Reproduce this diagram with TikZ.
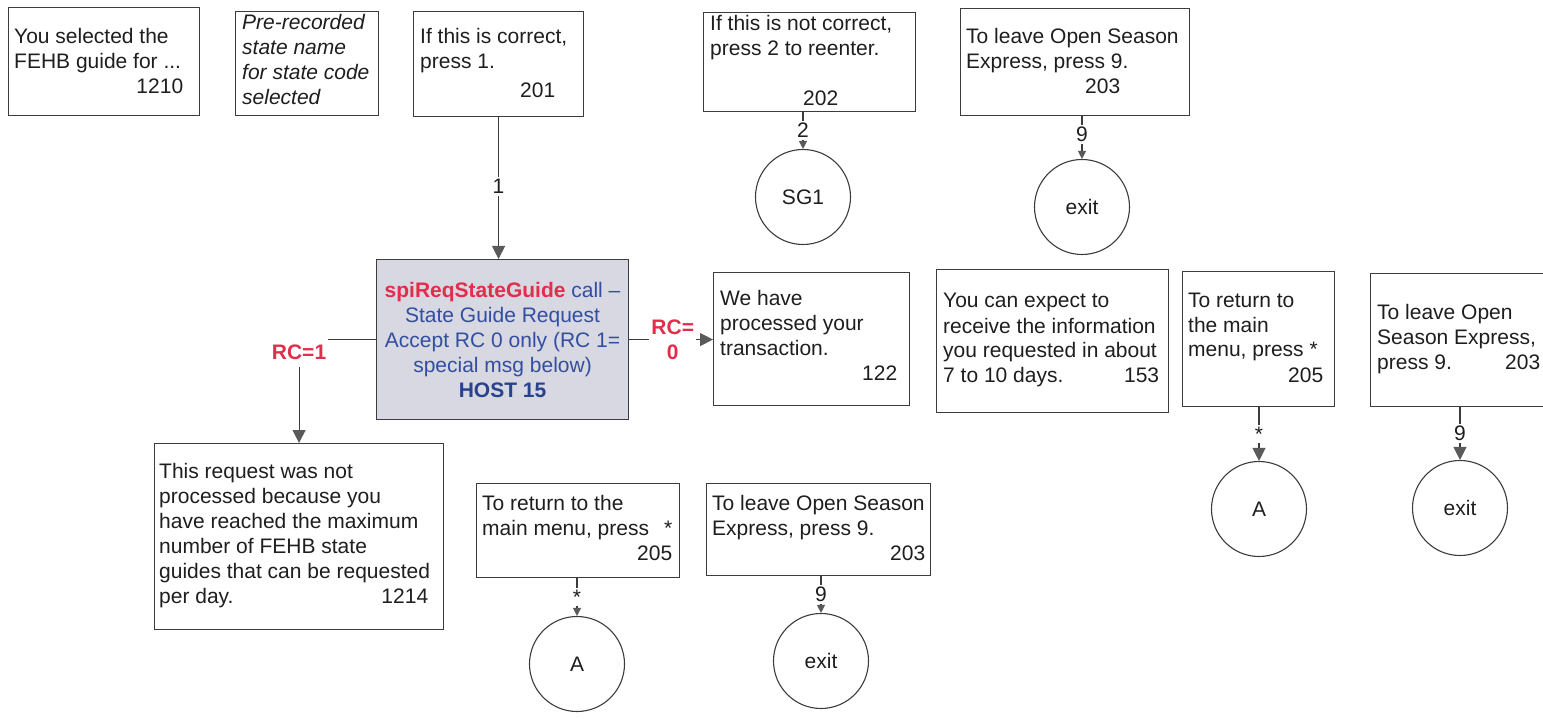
\documentclass[tikz,border=0pt]{standalone}
\usepackage{fontspec}
\setmainfont{Liberation Sans}
\usetikzlibrary{arrows.meta}
\definecolor{linegray}{RGB}{60,60,60}
\definecolor{tipgray}{RGB}{90,90,90}
\definecolor{rcred}{RGB}{226,45,75}
\definecolor{spiblue}{RGB}{50,78,160}
\definecolor{hostblue}{RGB}{40,66,140}
\definecolor{callfill}{RGB}{216,216,226}
\definecolor{inkblack}{RGB}{30,30,30}
\begin{document}
\begin{tikzpicture}[x=1pt,y=1pt,
  box/.style={draw=linegray, line width=1.1pt, rectangle, inner sep=0pt, anchor=north west},
  txt/.style={anchor=base west, align=left, inner sep=0pt, font=\fontsize{21}{25}\selectfont, text=inkblack},
  circ/.style={draw=linegray, line width=1.1pt, circle, inner sep=0pt, minimum size=95pt, font=\fontsize{21}{25}\selectfont, text=inkblack},
  conn/.style={draw=linegray, line width=1.1pt, -{Triangle[length=13pt,width=13pt,color=tipgray]}},
  connsm/.style={draw=linegray, line width=1.1pt, -{Triangle[length=8pt,width=8pt,color=tipgray]}},
  lbl/.style={fill=white, inner sep=2pt, font=\fontsize{21}{25}\selectfont, text=inkblack},
  rclbl/.style={fill=white, inner xsep=2pt, inner ysep=7pt, font=\bfseries\fontsize{21}{25}\selectfont, text=rcred, align=center}
]
\useasboundingbox (0,0) rectangle (1543,-719);
\clip (0,0) rectangle (1543,-719);

% boxes
\node[box, minimum width=191pt, minimum height=108pt] (b1210) at (8,-7) {};
\node[box, minimum width=143pt, minimum height=104pt] (bpre) at (235,-11) {};
\node[box, minimum width=170pt, minimum height=105pt] (b201) at (413,-11) {};
\node[box, minimum width=212pt, minimum height=99pt] (b202) at (703,-12) {};
\node[box, minimum width=229pt, minimum height=107pt] (b203a) at (960,-8) {};
\node[box, fill=callfill, minimum width=252pt, minimum height=160pt] (central) at (376,-259) {};
\node[box, minimum width=196pt, minimum height=133pt] (b122) at (713,-272) {};
\node[box, minimum width=232pt, minimum height=143pt] (b153) at (936,-269) {};
\node[box, minimum width=152pt, minimum height=135pt] (b205r) at (1182,-271) {};
\node[box, minimum width=190pt, minimum height=133pt] (b203r) at (1370,-273) {};
\node[box, minimum width=289pt, minimum height=186pt] (b1214) at (154,-443) {};
\node[box, minimum width=203pt, minimum height=94pt] (b205b) at (476,-483) {};
\node[box, minimum width=224pt, minimum height=92pt] (b203b) at (706,-483) {};

% texts (anchored at the baseline of their last line)
\node[txt] (t1210) at (14,-94) {You selected the\\FEHB guide for ...\\\makebox[169pt][r]{1210}};
\node[txt, font=\itshape\fontsize{21}{25}\selectfont] (tpre) at (242,-105) {Pre-recorded\\state name\\for state code\\selected};
\node[txt] (t201) at (420,-98) {If this is correct,\\press 1.\\[4pt]\hspace*{100pt}201};
\node[txt] (t202) at (710,-106) {If this is not correct,\\press 2 to reenter.\\[25pt]\hspace*{93pt}202};
\node[txt] (t203a) at (966,-94) {To leave Open Season\\Express, press 9.\\\hspace*{119pt}203};
\node[align=center, inner sep=0pt, font=\fontsize{21}{25}\selectfont, text=spiblue] (tcentral) at (central.center)
  {{\color{rcred}\bfseries spiReqStateGuide} call –\\State Guide Request\\Accept RC 0 only (RC 1=\\special msg below)\\{\bfseries\color{hostblue}HOST 15}};
\node[txt] (t122) at (720,-381) {We have\\processed your\\transaction.\\\makebox[177pt][r]{122}};
\node[txt] (t153) at (943,-383) {You can expect to\\receive the information\\you requested in about\\\makebox[216pt][l]{7 to 10 days.\hfill 153}};
\node[txt] (t205r) at (1188,-382) {To return to\\the main\\menu, press *\\\makebox[135pt][r]{205}};
\node[txt] (t203r) at (1377,-370) {To leave Open\\Season Express,\\\makebox[163pt][l]{press 9.\hfill 203}};
\node[txt] (t1214) at (159,-603) {This request was not\\processed because you\\have reached the maximum\\number of FEHB state\\guides that can be requested\\\makebox[269pt][l]{per day.\hfill 1214}};
\node[txt] (t205b) at (482,-560) {To return to the\\\makebox[190pt][l]{main menu, press\hfill *}\\\makebox[190pt][r]{205}};
\node[txt] (t203b) at (712,-560) {To leave Open Season\\Express, press 9.\\\makebox[213pt][r]{203}};

% circles
\node[circ] (SG1) at (803,-197) {SG1};
\node[circ] (exit1) at (1082,-207) {exit};
\node[circ] (AR) at (1259,-509) {A};
\node[circ] (exitR) at (1460,-508) {exit};
\node[circ] (AB) at (577,-664) {A};
\node[circ] (exitB) at (821,-661) {exit};

% connectors
\draw[conn] (b201.south) -- node[lbl, pos=0.49] {1} (b201.south |- central.north);
\draw[connsm] (SG1.north |- b202.south) -- node[lbl] {2} (SG1.north);
\draw[connsm] (exit1.north |- b203a.south) -- node[lbl, pos=0.42] {9} (exit1.north);
\draw[conn] (central.west) -| node[rclbl, pos=0.5, yshift=-13pt] {RC=1} (b1214.north);
\draw[conn] (central.east) -- node[rclbl, inner ysep=1pt, pos=0.52] {RC=\\0} (b122.west |- central.east);
\draw[conn] (AR.north |- b205r.south) -- node[lbl] {*} (AR.north);
\draw[conn] (exitR.north |- b203r.south) -- node[lbl] {9} (exitR.north);
\draw[connsm] (AB.north |- b205b.south) -- node[lbl] {*} (AB.north);
\draw[connsm] (exitB.north |- b203b.south) -- node[lbl] {9} (exitB.north);
\end{tikzpicture}
\end{document}
